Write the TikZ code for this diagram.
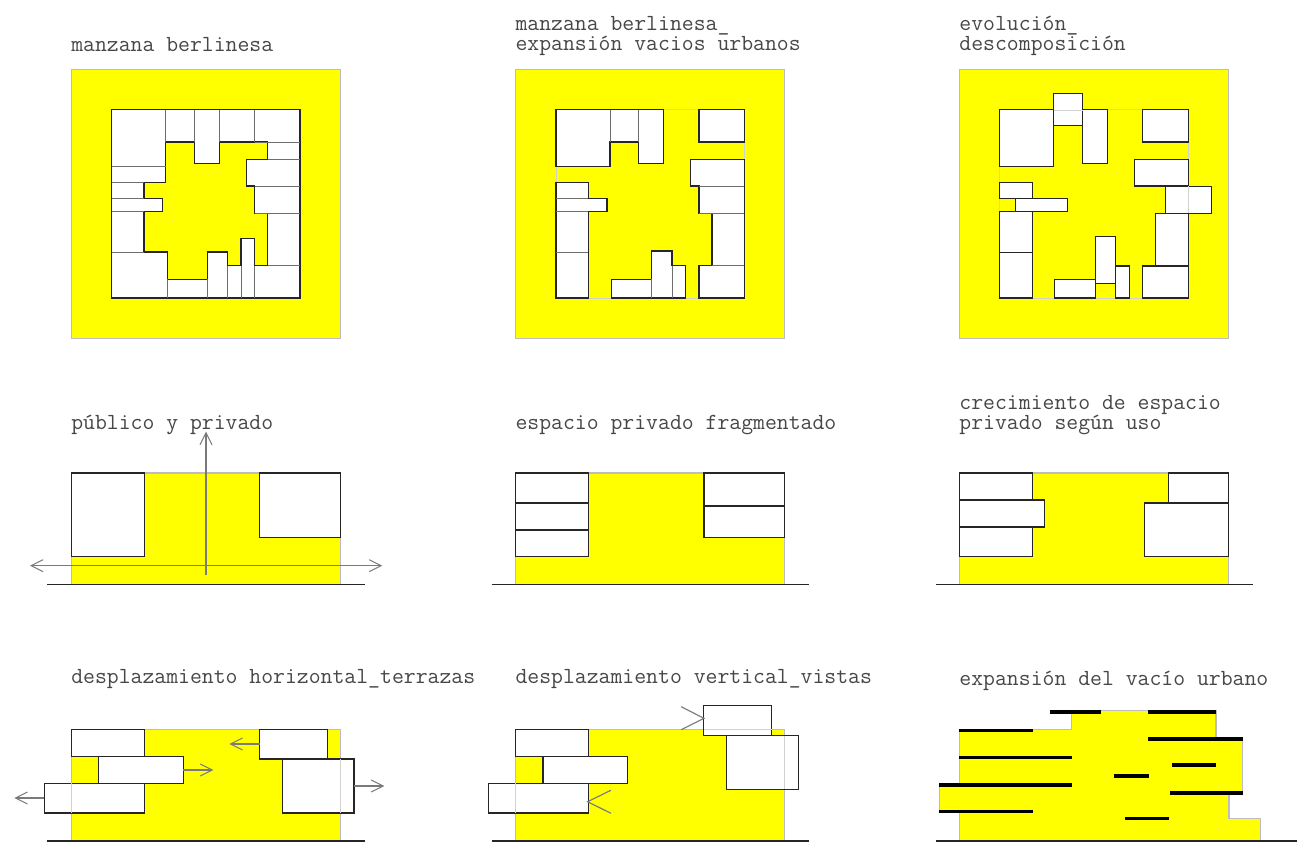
\documentclass[tikz,border=0pt]{standalone}
\usepackage{fontspec}
\setmonofont{Latin Modern Mono}
\usepackage{xcolor}
\usetikzlibrary{arrows.meta}
\definecolor{solaryellow}{HTML}{FFFF00}
\definecolor{solaredge}{HTML}{BDBDBD}
\definecolor{blockline}{HTML}{262626}
\definecolor{partline}{HTML}{6E6E6E}
\definecolor{moveline}{HTML}{7A7A7A}

\begin{document}
\begin{tikzpicture}[
  x=0.75pt, y=-0.75pt,
  solar/.style={fill=solaryellow, draw=solaredge, line width=0.8pt},
  block/.style={fill=white, draw=blockline, line width=0.85pt},
  part/.style={draw=partline, line width=0.75pt},
  ghost/.style={draw=solaredge!70, line width=0.75pt},
  ground/.style={draw=blockline, line width=0.85pt},
  move/.style={draw=moveline, line width=0.85pt, >={Straight Barb[length=9pt,width=9pt,line width=0.75pt]}},
  chevron/.style={draw=moveline, line width=0.85pt},
  bar/.style={draw=black, line width=2.6pt},
  titulo/.style={font=\ttfamily\fontsize{17.3}{15}\selectfont, text=black!72, anchor=base west, align=left, inner sep=0pt},
]
\useasboundingbox (0,0) rectangle (1297,846);

% ---------- Row 1: plans of the block ----------
\node[titulo] (t11) at (71,51.5) {manzana berlinesa};
\node[titulo] (t12) at (515.3,50.3) {manzana berlinesa\_\\expansión vacios urbanos};
\node[titulo] (t13) at (959.2,50.3) {evolución\_\\descomposición};

\begin{scope}[shift={(0,0)}]
\draw[solar] (71.3,69.3) rectangle (340.3,338.3);
\draw[block] (111.7,109.7) rectangle (300,298);
\draw[fill=solaryellow, draw=blockline, line width=0.85pt]
  (165.7,142) -- (194.3,142) -- (194.3,163.3) -- (219.3,163.3) -- (219.3,142) -- (267.7,142)
  -- (267.7,159.3) -- (246.3,159.3) -- (246.3,186) -- (254.7,186) -- (254.7,213.3) -- (267.7,213.3)
  -- (267.7,265.7) -- (254.7,265.7) -- (254.7,238.7) -- (241,238.7) -- (241,265.7) -- (227.7,265.7)
  -- (227.7,252) -- (207.3,252) -- (207.3,279.3) -- (167.3,279.3) -- (167.3,252) -- (144,252)
  -- (144,211.7) -- (162.7,211.7) -- (162.7,198.3) -- (144,198.3) -- (144,182.7) -- (165.7,182.7) -- cycle;
% vertical divisions
\foreach \xc/\ya/\yb in {165.7/110/142, 194.3/110/142, 219.3/110/142, 254.7/110/142,
  167.3/279.3/298, 207.3/279.3/298, 227.7/265.7/298, 241/265.7/298, 254.7/265.7/298}
  \draw[part] (\xc,\ya) -- (\xc,\yb);
% horizontal divisions
\foreach \yc/\xa/\xb in {166.3/112/165.7, 182.7/112/144, 198.3/112/144, 211.7/112/144, 252/112/144,
  142/254.7/300, 159.3/267.7/300, 186/254.7/300, 213.3/254.7/300, 265.7/267.7/300}
  \draw[part] (\xa,\yc) -- (\xb,\yc);
\end{scope}

\begin{scope}[shift={(444.3,0)}]
\draw[solar] (71.3,69.3) rectangle (340.3,338.3);
\draw[ghost] (111.7,109.7) rectangle (300,298);
\draw[block] (111.7,109.7) -- (219.3,109.7) -- (219.3,163.3) -- (194.3,163.3) -- (194.3,142) -- (165.7,142) -- (165.7,166.3) -- (111.7,166.3) -- cycle;
\draw[block] (254.7,109.7) rectangle (300,142);
\draw[block] (246.3,159.3) -- (300,159.3) -- (300,298) -- (254.7,298) -- (254.7,265.7) -- (267.7,265.7) -- (267.7,213.3) -- (254.7,213.3) -- (254.7,186) -- (246.3,186) -- cycle;
\draw[block] (111.7,182.7) -- (144,182.7) -- (144,198.3) -- (162.7,198.3) -- (162.7,211.7) -- (144,211.7) -- (144,298) -- (111.7,298) -- cycle;
\draw[block] (167.3,298) -- (167.3,279.3) -- (207.3,279.3) -- (207.3,251) -- (227.7,251) -- (227.7,265.7) -- (241,265.7) -- (241,298) -- cycle;
\foreach \xc/\ya/\yb in {165.7/110/142, 194.3/110/142, 207.3/279.3/298, 227.7/265.7/298}
  \draw[part] (\xc,\ya) -- (\xc,\yb);
\foreach \yc/\xa/\xb in {198.3/112/144, 211.7/112/144, 252/112/144,
  186/254.7/300, 213.3/254.7/300, 265.7/267.7/300}
  \draw[part] (\xa,\yc) -- (\xb,\yc);
\end{scope}

\begin{scope}[shift={(888.2,0)}]
\draw[solar] (71.3,69.3) rectangle (340.3,338.3);
\draw[ghost] (111.7,109.7) rectangle (300,298);
\foreach \xa/\ya/\xb/\yb in {111.7/109.7/165.7/166.3, 165.7/93.3/194.3/125.7, 194.3/109.7/219.3/163.3,
  254.7/109.7/300/142, 246.3/159.3/300/186, 277.5/186.3/323/213.3, 267.7/213.3/300/266,
  254.7/266/300/298, 111.7/182.7/144/198.7, 127.5/198.7/179/211.7, 111.7/211.7/144/252.3,
  111.7/252.3/144/298, 166.5/279.3/207.3/298, 207.3/236.7/227.3/283.3, 227.3/266/241/298}
  \draw[block] (\xa,\ya) rectangle (\xb,\yb);
\draw[ghost] (165.7,110) -- (194.3,110);
\draw[ghost] (300,186.3) -- (300,213.3);
\end{scope}

% ---------- Row 2: sections ----------
\node[titulo] (t21) at (71,429.7) {público y privado};
\node[titulo] (t22) at (515.3,429.7) {espacio privado fragmentado};
\node[titulo] (t23) at (959.2,429.7) {crecimiento de espacio\\privado según uso};

\begin{scope}[shift={(0,0)}]
\draw[solar] (71.3,473) rectangle (340.3,584.3);
\draw[ground] (47.3,584.3) -- (364.7,584.3);
\draw[block] (71.3,473) rectangle (144.3,556.3);
\draw[block] (259.7,473) rectangle (340.3,537.3);
\draw[move,->] (206,575) -- (206,431.7);
\draw[move,<->] (30,565.7) -- (382.3,565.7);
\end{scope}

\begin{scope}[shift={(444.3,0)}]
\draw[solar] (71.3,473) rectangle (340.3,584.3);
\draw[ground] (47.3,584.3) -- (364.7,584.3);
\foreach \xa/\ya/\xb/\yb in {71.3/473/144.3/503, 71.3/503/144.3/530, 71.3/530/144.3/556.3,
  259.7/473/340.3/506, 259.7/506/340.3/537.3}
  \draw[block] (\xa,\ya) rectangle (\xb,\yb);
\end{scope}

\begin{scope}[shift={(888.2,0)}]
\draw[solar] (71.3,473) rectangle (340.3,584.3);
\draw[ground] (47.3,584.3) -- (364.7,584.3);
\foreach \xa/\ya/\xb/\yb in {71.3/473/144.3/500, 71.3/500/156.5/527, 71.3/527/144.3/556.3,
  280.5/473/340.3/503, 256.5/503/340.3/556.3}
  \draw[block] (\xa,\ya) rectangle (\xb,\yb);
\end{scope}

% ---------- Row 3: displacements ----------
\node[titulo] (t31) at (71,683.5) {desplazamiento horizontal\_terrazas};
\node[titulo] (t32) at (515.3,683.5) {desplazamiento vertical\_vistas};
\node[titulo] (t33) at (959.2,685) {expansión del vacío urbano};

\begin{scope}[shift={(0,0)}]
\draw[solar] (71.3,729.3) rectangle (340.3,841);
\draw[ground] (47.3,841) -- (364.7,841);
\foreach \xa/\ya/\xb/\yb in {71.3/729.3/144.3/756.3, 98.7/756.3/183.3/783.3, 44.3/783.3/144.3/813,
  259.7/729.3/327.7/759, 282.3/759/354/813}
  \draw[block] (\xa,\ya) rectangle (\xb,\yb);
\draw[ghost] (71.3,783.3) -- (71.3,813);
\draw[ghost] (340.3,759) -- (340.3,813);
\draw[move,->] (259.7,744) -- (229.3,744);
\draw[move,->] (183.3,770) -- (213.3,770);
\draw[move,->] (354,786) -- (384.3,786);
\draw[move,->] (44.3,798) -- (14.3,798);
\end{scope}

\begin{scope}[shift={(444.3,0)}]
\draw[solar] (71.3,729.3) rectangle (340.3,841);
\draw[ground] (47.3,841) -- (364.7,841);
\foreach \xa/\ya/\xb/\yb in {71.3/729.3/144.3/756.3, 98.7/756.3/183.3/783.3, 44.3/783.3/144.3/813,
  259.6/705.7/327.6/735.7, 282.3/735.7/353.9/789.3}
  \draw[block] (\xa,\ya) rectangle (\xb,\yb);
\draw[ghost] (71.3,783.3) -- (71.3,813);
\draw[ghost] (340.3,735.7) -- (340.3,789.3);
\draw[ghost] (259.6,729.3) -- (327.6,729.3);
\draw[chevron] (236.9,706.7) -- (259.6,718.3) -- (236.9,729.7);
\draw[chevron] (166.6,790.3) -- (143.3,801.7) -- (166.6,813.3);
\end{scope}

\begin{scope}[shift={(888.2,0)}]
\draw[solar] (71.3,841) -- (71.3,811.7) -- (51.1,811.7) -- (51.1,785) -- (71.3,785) -- (71.3,729.3)
  -- (183.5,729.3) -- (183.5,710.7) -- (327.8,710.7) -- (327.8,738.7) -- (354.5,738.7) -- (354.5,793)
  -- (340.8,793) -- (340.8,818.3) -- (372.1,818.3) -- (372.1,841) -- cycle;
\draw[ground] (47.3,841) -- (408.8,841);
\foreach \xa/\xb/\yc in {161.8/212.8/712, 259.8/327.8/712, 71.1/144.5/730.7, 259.8/354.5/739,
  71.1/183.8/757.7, 283.8/327.8/765, 225.8/260.5/776, 51.1/183.8/785, 282.1/354.5/793,
  51.1/144.5/811.7, 236.5/280.8/818.7}
  \draw[bar] (\xa,\yc) -- (\xb,\yc);
\end{scope}
\end{tikzpicture}
\end{document}
